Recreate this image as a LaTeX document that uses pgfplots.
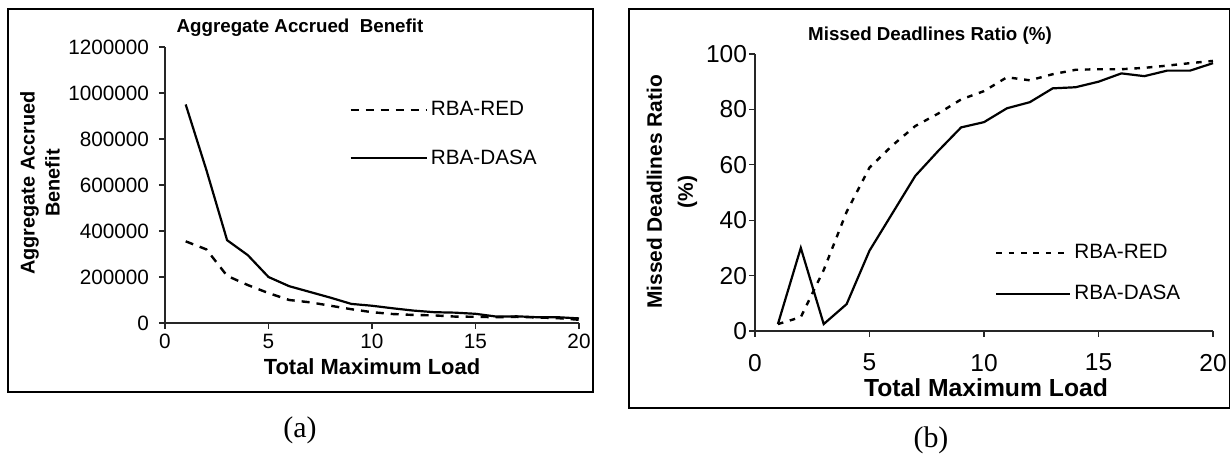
\documentclass[border=0pt]{standalone}
\usepackage{fontspec}
\setmainfont{Liberation Sans}
\newfontfamily\capfont{Liberation Serif}
\usepackage{pgfplots}
\pgfplotsset{compat=1.18}

\pgfplotstableread{
x red dasa
1 355000 950000
2 320000 665000
3 205000 360000
4 165000 295000
5 130000 200000
6 100000 160000
7 90000 135000
8 75000 110000
9 60000 83000
10 47000 75000
11 39000 64000
12 35000 54000
13 33000 47000
14 28000 45000
15 27000 40000
16 25000 28000
17 27000 29000
18 24000 25000
19 21000 25000
20 14000 20000
}\benefit

\pgfplotstableread{
x red dasa
1 2.5 2.5
2 5 30
3 22 2.5
4 43 9.7
5 59 29
6 67 42.5
7 74 56
8 78.5 65
9 83.6 73.5
10 86.6 75.4
11 91.6 80.4
12 90.5 82.6
13 92.7 87.6
14 94.3 88
15 94.5 90
16 94.5 93
17 95 92
18 95.8 94
19 96.7 94
20 97.5 96.7
}\missed

\begin{document}
\begin{tikzpicture}
\useasboundingbox (0,0) rectangle (615.5bp,227.5bp);
\draw[line width=0.8bp] (4bp,31.5bp) rectangle (296.5bp,223bp);
\draw[line width=0.8bp] (314.5bp,23.5bp) rectangle (614.7bp,223bp);

% ---------------- panel (a)
\begin{axis}[
  at={(82.5bp,66bp)}, anchor=south west,
  scale only axis, width=207bp, height=138bp,
  xmin=0, xmax=20, ymin=0, ymax=1200000,
  axis x line=bottom, axis y line=left,
  axis line style={-, black!85, line width=0.6bp},
  xtick={0,5,10,15,20},
  ytick={0,200000,400000,600000,800000,1000000,1200000},
  yticklabels={0,200000,400000,600000,800000,1000000,1200000},
  scaled y ticks=false,
  tick style={black!85, line width=0.6bp},
  tick align=outside, major tick length=3bp,
  ticklabel style={font=\fontsize{10.4}{12}\selectfont},
  xticklabel style={yshift=-1.5bp, inner ysep=1bp},
  yticklabel style={xshift=-1.5bp},
  /pgf/number format/assume math mode=true,
  clip=false,
  legend style={draw=none, fill=none, at={(0.43,0.83)}, anchor=north west,
    font=\fontsize{10.4}{12}\selectfont, row sep=12.5bp,
    nodes={inner sep=1.5bp}, cells={anchor=west}},
  legend image code/.code={\draw[#1] (0bp,0bp) -- (38bp,0bp);},
]
\addplot[black, line width=1.2bp, dash pattern=on 4bp off 3.5bp] table[x=x,y=red] {\benefit};
\addlegendentry{RBA-RED}
\addplot[black, line width=1.1bp] table[x=x,y=dasa] {\benefit};
\addlegendentry{RBA-DASA}
\end{axis}

\node[font=\bfseries\fontsize{9.4}{11}\selectfont] at (150bp,213.5bp) {Aggregate Accrued\ \ Benefit};
\node[font=\bfseries\fontsize{10}{12.5}\selectfont, rotate=90, align=center] at (20bp,136bp) {Aggregate Accrued\\Benefit};
\node[font=\bfseries\fontsize{11}{13}\selectfont, inner ysep=0pt] at (186bp,44bp) {Total Maximum Load};
\node[font=\capfont\fontsize{15}{17}\selectfont] at (150bp,12.5bp) {(a)};

% ---------------- panel (b)
\begin{axis}[
  at={(377.5bp,62bp)}, anchor=south west,
  scale only axis, width=229bp, height=138.5bp,
  xmin=0, xmax=20, ymin=0, ymax=100,
  axis x line=bottom, axis y line=left,
  axis line style={-, black!85, line width=0.6bp},
  xtick={0,5,10,15,20},
  ytick={0,20,40,60,80,100},
  tick style={black!85, line width=0.6bp},
  tick align=outside, major tick length=3bp,
  ticklabel style={font=\fontsize{12.3}{14}\selectfont},
  xticklabel style={yshift=-5bp},
  yticklabel style={xshift=2.5bp},
  /pgf/number format/assume math mode=true,
  clip=false,
  legend style={draw=none, fill=none, at={(0.51,0.34)}, anchor=north west,
    font=\fontsize{10.4}{12}\selectfont, row sep=9bp,
    nodes={inner sep=1.5bp}, cells={anchor=west}},
  legend image code/.code={\draw[#1] (0bp,0bp) -- (37bp,0bp);},
]
\addplot[black, line width=1.2bp, dash pattern=on 2.8bp off 3.4bp] table[x=x,y=red] {\missed};
\addlegendentry{RBA-RED}
\addplot[black, line width=1.1bp] table[x=x,y=dasa] {\missed};
\addlegendentry{RBA-DASA}
\end{axis}

\node[font=\bfseries\fontsize{9.4}{11}\selectfont] at (465bp,209.5bp) {Missed Deadlines Ratio (\%)};
\node[font=\bfseries\fontsize{10.5}{15.5}\selectfont, rotate=90, align=center] at (336bp,131.5bp) {Missed Deadlines Ratio\\(\%)};
\node[font=\bfseries\fontsize{12.4}{14}\selectfont] at (493bp,33.5bp) {Total Maximum Load};
\node[font=\capfont\fontsize{15}{17}\selectfont] at (465.5bp,7.5bp) {(b)};
\end{tikzpicture}
\end{document}
